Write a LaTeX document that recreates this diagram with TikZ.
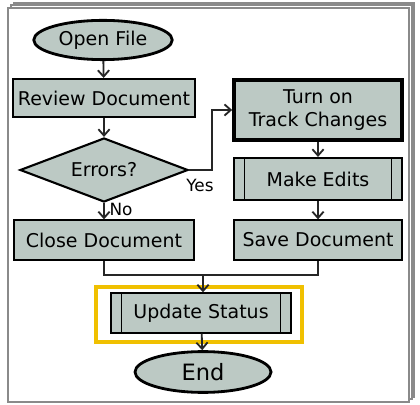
\documentclass[tikz,border=0pt]{standalone}
\usepackage{fontspec}
\setmainfont{DejaVu Sans}
\usetikzlibrary{shapes.geometric, arrows.meta}

\definecolor{boxfill}{RGB}{188,201,196}
\definecolor{hilite}{RGB}{240,192,0}
\definecolor{sheetgray}{RGB}{138,138,138}

\begin{document}
\begin{tikzpicture}[x=0.025cm, y=-0.025cm,
	>={Straight Barb[length=4.5pt, width=8pt]},
	terminal/.style = {ellipse, line width=2pt},
	procbox/.style = {rectangle, line width=1.5pt},
	decision/.style = {diamond, shape aspect=2.6, inner sep=0pt, line width=1.5pt},
	subproc/.style = {rectangle, line width=1.5pt,
		path picture = {
			\draw[line width=1pt] ([xshift=.27cm]path picture bounding box.north west)
				-- ([xshift=.27cm]path picture bounding box.south west);
			\draw[line width=1pt] ([xshift=-.27cm]path picture bounding box.north east)
				-- ([xshift=-.27cm]path picture bounding box.south east);}}]

\useasboundingbox (0,0) rectangle (420,405);

% Hojas
\begin{scope}[draw = sheetgray, fill = white, line width = .9pt]
	\filldraw (14,3) rectangle (414,397);
	\filldraw (11,5) rectangle (412,399);
	\filldraw (8,8) rectangle (409,402);
\end{scope}

% Nodos
\begin{scope}[
		every node/.style = {draw = black, fill = boxfill,
		font = \fontsize{13.5}{16}\selectfont, align = center}]
	\node[terminal, minimum width = 3.45cm, minimum height = .75cm] (open) at (103,40) {Open File};
	\node[procbox, minimum width = 4.45cm, minimum height = .95cm] (review) at (104,98) {Review Document};
	\node[decision, minimum width = 4.2cm, minimum height = 1.6cm] (errors) at (104,170) {Errors?};
	\node[procbox, line width = 2.6pt, minimum width = 4.2cm, minimum height = 1.5cm] (turn) at (318,110) {Turn on\\Track Changes};
	\node[subproc, minimum width = 4.2cm, minimum height = 1.05cm] (edits) at (318,179) {Make Edits};
	\node[procbox, minimum width = 4.5cm, minimum height = .98cm] (close) at (104,240) {Close Document};
	\node[procbox, minimum width = 4.22cm, minimum height = .98cm] (save) at (318,240) {Save Document};
	\node[subproc, minimum width = 4.52cm, minimum height = .98cm] (update) at (201,313) {Update Status};
	\node[terminal, minimum width = 3.4cm, minimum height = 1.02cm] (end) at (203,372) {\fontsize{16}{18}\selectfont End};
\end{scope}

% Resaltado
\draw[hilite, line width = 2.8pt] (96,287) rectangle (302,342);

% Flechas
\begin{scope}[
		every node/.style = {font = \fontsize{12}{14}\selectfont},
		every edge/.style = {draw = black!85, line width = 1.3pt, ->}]
	\path (open) edge (review);
	\path (review) edge (errors);
	\path (errors) edge node[right, pos=.4] {No} (close);
	\path (turn) edge (edits);
	\path (edits) edge (save);
	\draw[black!85, line width = 1.3pt, ->] (errors.east) -- ++(23,0) |- (turn.west);
	\node (yes) at (200,185) {Yes};
	\coordinate (join) at (203,275);
	\draw[black!85, line width = 1.3pt] (close.south) |- (join) -| (save.south);
	\draw[black!85, line width = 1.3pt, ->] (join) -- (join |- update.north);
	\path (update) edge (end);
\end{scope}
\end{tikzpicture}
\end{document}
